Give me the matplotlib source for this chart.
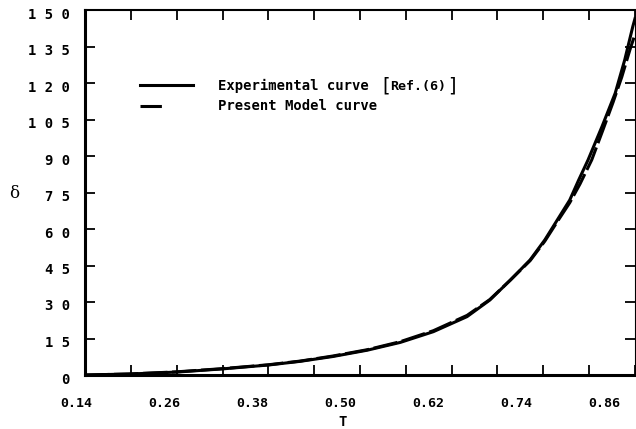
"""Temperature dependence of delta: experimental vs present model curve."""
import matplotlib
matplotlib.use("Agg")
import matplotlib.pyplot as plt
import matplotlib.transforms as mtransforms
import numpy as np

# values
T_exp = [0.14, 0.20, 0.265, 0.327, 0.39, 0.433, 0.478, 0.525, 0.570, 0.615,
         0.661, 0.692, 0.720, 0.747, 0.767, 0.784, 0.801, 0.813, 0.826, 0.845,
         0.863, 0.876, 0.887, 0.89]
d_exp = [0, 0.4, 1.2, 2.5, 4.1, 5.6, 7.6, 10.2, 13.4, 17.8,
         24.0, 30.8, 39.0, 47.3, 55.5, 63.7, 71.9, 80.0, 88.4, 102.1,
         115.8, 129.5, 143.2, 146.5]

T_mod = [0.14, 0.20, 0.265, 0.327, 0.39, 0.433, 0.478, 0.525, 0.570, 0.615,
         0.661, 0.692, 0.720, 0.747, 0.767, 0.784, 0.801, 0.815, 0.831, 0.846,
         0.860, 0.872, 0.883, 0.89]
d_mod = [0, 0.4, 1.3, 2.6, 4.2, 5.7, 7.8, 10.4, 13.7, 18.2,
         24.5, 31.0, 39.0, 47.0, 55.0, 63.0, 70.8, 78.5, 88.4, 100.5,
         112.0, 122.5, 133.6, 140.0]

x_labels = ["0.14", "0.26", "0.38", "0.50", "0.62", "0.74", "0.86"]
y_values = [0, 15, 30, 45, 60, 75, 90, 105, 120, 135, 150]
y_labels = ["0", "1 5", "3 0", "4 5", "6 0", "7 5", "9 0",
            "1 0 5", "1 2 0", "1 3 5", "1 5 0"]

MONO = "DejaVu Sans Mono"

fig = plt.figure(figsize=(6.36, 4.29), dpi=100)
ax = fig.add_axes([85 / 636, 1 - 375 / 429, 550 / 636, 365 / 429])

ax.plot(T_exp, d_exp, color="black", lw=2.2, solid_joinstyle="round",
        label="Experimental curve")
ax.plot(T_mod, d_mod, color="black", lw=2.2, linestyle=(0, (8, 1.5)),
        label="Present Model curve")

ax.set_xlim(0.14, 0.89)
ax.set_ylim(0, 150)

# x axis: labelled positions without marks, unlabelled marks at 12 divisions
ax.set_xticks([float(s) for s in x_labels])
ax.set_xticklabels(x_labels, fontfamily=MONO, fontweight="bold", fontsize=9.5)
ax.set_xticks(np.linspace(0.14, 0.89, 13), minor=True)
ax.tick_params(axis="x", which="major", length=0, pad=16)
ax.tick_params(axis="x", which="minor", direction="in", length=7, width=1.3,
               top=True, bottom=True)

ax.set_yticks(y_values)
ax.set_yticklabels(y_labels, fontfamily=MONO, fontweight="bold", fontsize=10)
ax.tick_params(axis="y", direction="in", length=7, width=1.3, left=True,
               right=True, pad=11)

shift_x = mtransforms.ScaledTranslation(-9 / 100, 0, fig.dpi_scale_trans)
for lab in ax.get_xticklabels():
    lab.set_transform(lab.get_transform() + shift_x)
shift_y = mtransforms.ScaledTranslation(0, -3 / 100, fig.dpi_scale_trans)
for lab in ax.get_yticklabels():
    lab.set_transform(lab.get_transform() + shift_y)

ax.spines["left"].set_linewidth(2.2)
ax.spines["bottom"].set_linewidth(2.2)
ax.spines["top"].set_linewidth(1.5)
ax.spines["right"].set_linewidth(0.8)

ax.set_xlabel("T", fontfamily=MONO, fontweight="bold", fontsize=10)
ax.xaxis.set_label_coords((343 - 85) / 550, (375 - 422) / 365)
ax.xaxis.label.set_va("center")
ax.set_ylabel("δ", fontfamily="DejaVu Serif", fontsize=12, rotation=0)
ax.yaxis.set_label_coords((14 - 85) / 550, (375 - 193) / 365)
ax.yaxis.label.set_va("center")

leg = ax.legend(loc="upper left", bbox_to_anchor=((140 - 85) / 550, (375 - 79) / 365),
                frameon=False, borderpad=0, borderaxespad=0, handlelength=3.8,
                handletextpad=1.8, labelspacing=0.45,
                prop={"family": MONO, "weight": "bold", "size": 10})
# the model sample in the reference is a single short dash
leg.legend_handles[1].set_linestyle((0, (7, 40)))

# "[Ref.(6)]" with tall brackets after the first legend entry
fig.canvas.draw()
bb = leg.get_texts()[0].get_window_extent()
inv = fig.transFigure.inverted()
x0, y0 = inv.transform((bb.x1 + 14, (bb.y0 + bb.y1) / 2))
fig.text(x0, y0, "[", fontsize=14, va="center", ha="left")
x1 = x0 + 8 / 636
t = fig.text(x1, y0, "Ref.(6)", fontfamily=MONO, fontweight="bold",
             fontsize=9.5, va="center", ha="left")
fig.canvas.draw()
bb2 = t.get_window_extent()
x2, _ = inv.transform((bb2.x1 + 2, 0))
fig.text(x2, y0, "]", fontsize=14, va="center", ha="left")

fig.savefig("out.png", dpi=100)
